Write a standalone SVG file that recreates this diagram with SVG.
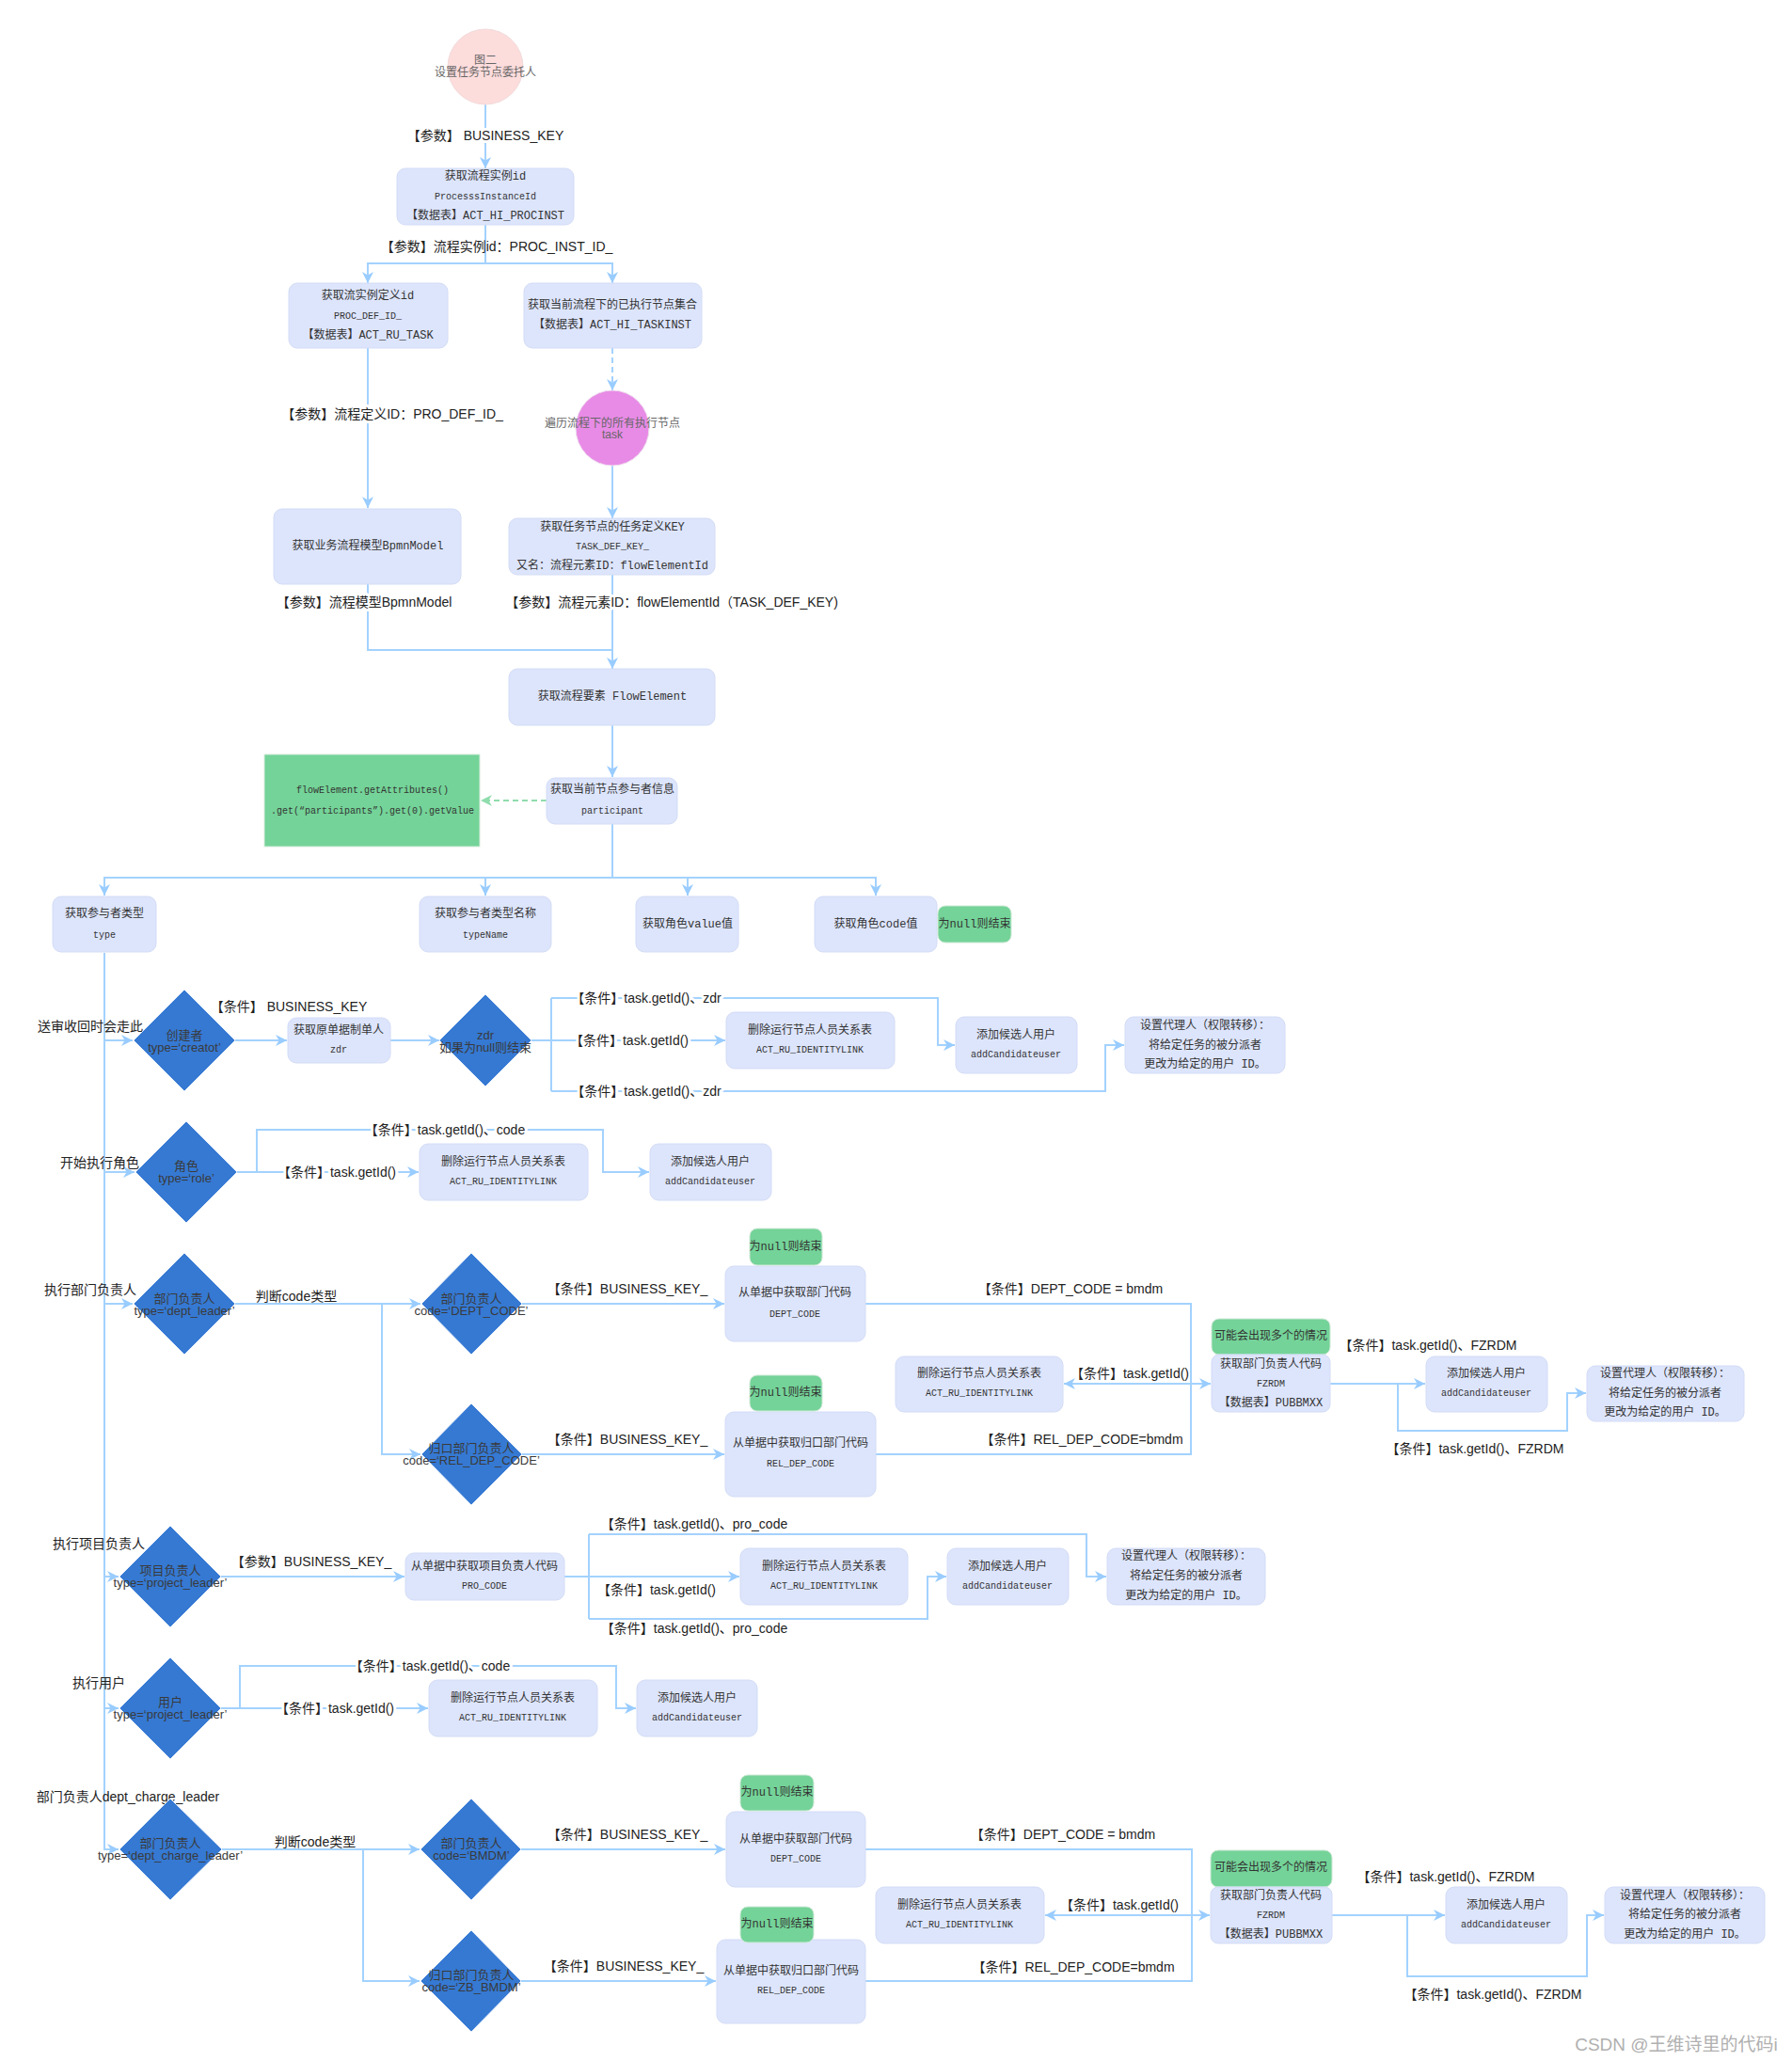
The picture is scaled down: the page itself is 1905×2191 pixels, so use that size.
<svg xmlns="http://www.w3.org/2000/svg" width="1905" height="2191" viewBox="0 0 1905 2191">
<defs>
<marker id="ar" markerUnits="userSpaceOnUse" markerWidth="12" markerHeight="12" refX="10" refY="5" orient="auto" viewBox="0 0 10 10">
<path d="M0,0 L10,5 L0,10 L3,5 z" fill="#99ccff"/>
</marker>
<marker id="arg" markerUnits="userSpaceOnUse" markerWidth="12" markerHeight="12" refX="10" refY="5" orient="auto" viewBox="0 0 10 10">
<path d="M0,0 L10,5 L0,10 L3,5 z" fill="#8fdcac"/>
</marker>
<style>
.e{fill:none;stroke:#a3d2ff;stroke-width:2}
.ea{fill:none;stroke:#a3d2ff;stroke-width:2;marker-end:url(#ar)}
.bx{fill:#dde5fc;stroke:#d3dcf6;stroke-width:1}
.gt{fill:#74d398;stroke:#cde8d6;stroke-width:1}
.dm{fill:#3579d3;stroke:#e6eefb;stroke-width:1}
.t{font-family:"Liberation Mono","Noto Sans CJK SC",monospace;font-size:12px;fill:#333;text-anchor:middle;dominant-baseline:central}
.m{font-family:"Liberation Mono",monospace;font-size:10px;fill:#333;text-anchor:middle;dominant-baseline:central}
.d{font-family:"Liberation Sans","Noto Sans CJK SC",sans-serif;font-size:13px;fill:#3a3a3a;text-anchor:middle;dominant-baseline:central}
.l{font-family:"Liberation Sans","Noto Sans CJK SC",sans-serif;font-size:14px;fill:#222;text-anchor:middle;dominant-baseline:central}
.h{stroke:#fff;stroke-width:6;stroke-linejoin:round;paint-order:stroke}
.c{font-family:"Liberation Sans","Noto Sans CJK SC",sans-serif;font-size:12px;fill:#666;text-anchor:middle;dominant-baseline:central}
</style>
</defs>
<rect width="1905" height="2191" fill="#fff"/>

<g id="connectors">
<path class="ea" d="M516,111 V179"/>
<path class="ea" d="M516,239 V280 H391 V301"/>
<path class="ea" d="M516,280 H651 V301"/>
<path class="ea" d="M391,370 V540"/>
<path class="ea" d="M651,370 V415" stroke-dasharray="6 4"/>
<path class="ea" d="M651,495 V551"/>
<path class="e" d="M391,621 V691 H651"/>
<path class="ea" d="M651,611 V711"/>
<path class="ea" d="M651,771 V826"/>
<path d="M581,851 H511" fill="none" stroke="#8fdcac" stroke-width="2" stroke-dasharray="6 4" marker-end="url(#arg)"/>
<path class="ea" d="M651,876 V933 H111 V952"/>
<path class="ea" d="M651,933 H931 V952"/>
<path class="ea" d="M516,933 V952"/>
<path class="ea" d="M731,933 V952"/>
<path class="ea" d="M111,1013 V1966 H126"/>
<path class="ea" d="M111,1106 H141"/>
<path class="ea" d="M111,1246 H143"/>
<path class="ea" d="M111,1386 H141"/>
<path class="ea" d="M111,1676 H126"/>
<path class="ea" d="M111,1816 H126"/>
<!-- row 1 -->
<path class="ea" d="M250,1106 H305"/>
<path class="ea" d="M415,1106 H467"/>
<path class="e" d="M565,1106 H586 M586,1061 V1160"/>
<path class="ea" d="M586,1061 H997 V1111 H1015"/>
<path class="ea" d="M586,1106 H771"/>
<path class="ea" d="M586,1160 H1175 V1111 H1195"/>
<!-- row 2 -->
<path class="ea" d="M252,1246 H273 V1201 H641 V1246 H690"/>
<path class="ea" d="M273,1246 H445"/>
<!-- row 3 -->
<path class="ea" d="M250,1386 H447"/>
<path class="ea" d="M406,1386 V1546 H447"/>
<path class="ea" d="M555,1386 H770"/>
<path class="ea" d="M555,1546 H770"/>
<path class="e" d="M920,1386 H1266 V1546 H931"/>
<path class="ea" d="M1266,1471 H1287"/>
<path class="ea" d="M1266,1471 H1131"/>
<path class="ea" d="M1414,1471 H1515"/>
<path class="ea" d="M1486,1471 V1521 H1666 V1481 H1686"/>
<!-- row 4 -->
<path class="ea" d="M234,1676 H430"/>
<path class="e" d="M600,1676 H626 M626,1631 V1721"/>
<path class="ea" d="M626,1631 H1155 V1676 H1176"/>
<path class="ea" d="M626,1676 H786"/>
<path class="ea" d="M626,1721 H986 V1676 H1006"/>
<!-- row 5 -->
<path class="ea" d="M234,1816 H255 V1771 H655 V1816 H676"/>
<path class="ea" d="M255,1816 H455"/>
<!-- row 6 -->
<path class="ea" d="M236,1966 H446"/>
<path class="ea" d="M386,1966 V2106 H446"/>
<path class="ea" d="M554,1966 H771"/>
<path class="ea" d="M554,2106 H761"/>
<path class="e" d="M920,1966 H1267 V2106 H920"/>
<path class="ea" d="M1267,2036 H1286"/>
<path class="ea" d="M1267,2036 H1111"/>
<path class="ea" d="M1416,2036 H1536"/>
<path class="ea" d="M1496,2036 V2101 H1687 V2036 H1705"/>
</g>

<g id="edge-labels">
<text class="l h" x="516" y="144">【参数】 BUSINESS_KEY</text>
<text class="l" x="528" y="262">【参数】流程实例id：PROC_INST_ID_</text>
<text class="l h" x="417" y="440">【参数】流程定义ID：PRO_DEF_ID_</text>
<text class="l h" x="387" y="640">【参数】流程模型BpmnModel</text>
<text class="l h" x="714" y="640">【参数】流程元素ID：flowElementId（TASK_DEF_KEY)</text>
<text class="l" x="307" y="1070">【条件】 BUSINESS_KEY</text>
<text class="l h" x="687" y="1061">【条件】task.getId()、zdr</text>
<text class="l h" x="669" y="1106">【条件】task.getId()</text>
<text class="l h" x="687" y="1160">【条件】task.getId()、zdr</text>
<text class="l h" x="473" y="1201">【条件】task.getId()、code</text>
<text class="l h" x="358" y="1246">【条件】task.getId()</text>
<text class="l" x="315" y="1378">判断code类型</text>
<text class="l" x="667" y="1370">【条件】BUSINESS_KEY_</text>
<text class="l" x="667" y="1530">【条件】BUSINESS_KEY_</text>
<text class="l" x="1138" y="1370">【条件】DEPT_CODE = bmdm</text>
<text class="l" x="1150" y="1530">【条件】REL_DEP_CODE=bmdm</text>
<text class="l" x="1201" y="1460">【条件】task.getId()</text>
<text class="l" x="1518" y="1430">【条件】task.getId()、FZRDM</text>
<text class="l" x="1568" y="1540">【条件】task.getId()、FZRDM</text>
<text class="l" x="331" y="1660">【参数】BUSINESS_KEY_</text>
<text class="l" x="738" y="1620">【条件】task.getId()、pro_code</text>
<text class="l" x="698" y="1690">【条件】task.getId()</text>
<text class="l" x="738" y="1731">【条件】task.getId()、pro_code</text>
<text class="l h" x="457" y="1771">【条件】task.getId()、code</text>
<text class="l h" x="356" y="1816">【条件】task.getId()</text>
<text class="l" x="335" y="1958">判断code类型</text>
<text class="l" x="667" y="1950">【条件】BUSINESS_KEY_</text>
<text class="l" x="663" y="2090">【条件】BUSINESS_KEY_</text>
<text class="l" x="1130" y="1950">【条件】DEPT_CODE = bmdm</text>
<text class="l" x="1141" y="2091">【条件】REL_DEP_CODE=bmdm</text>
<text class="l" x="1190" y="2025">【条件】task.getId()</text>
<text class="l" x="1537" y="1995">【条件】task.getId()、FZRDM</text>
<text class="l" x="1587" y="2120">【条件】task.getId()、FZRDM</text>
</g>

<g id="side-labels">
<text class="l" x="96" y="1091">送审收回时会走此</text>
<text class="l" x="106" y="1236">开始执行角色</text>
<text class="l" x="96" y="1371">执行部门负责人</text>
<text class="l" x="105" y="1641">执行项目负责人</text>
<text class="l" x="105" y="1789">执行用户</text>
<text class="l" x="136" y="1910">部门负责人dept_charge_leader</text>
</g>

<g id="n-start"><ellipse cx="516" cy="71" rx="40" ry="40" fill="#fddcdc" stroke="#f2dada"/><text class="c" x="516" y="64">图二</text><text class="c" x="516" y="77">设置任务节点委托人</text></g>
<g id="n-procinst"><rect class="bx" x="422" y="179" width="188" height="60" rx="9"/><text class="t" x="516" y="188">获取流程实例id</text><text class="m" x="516" y="209">ProcesssInstanceId</text><text class="t" x="516" y="230">【数据表】ACT_HI_PROCINST</text></g>
<g id="n-procdef"><rect class="bx" x="307" y="301" width="169" height="69" rx="9"/><text class="t" x="391" y="315">获取流实例定义id</text><text class="m" x="391" y="336">PROC_DEF_ID_</text><text class="t" x="391" y="357">【数据表】ACT_RU_TASK</text></g>
<g id="n-taskinst"><rect class="bx" x="557" y="301" width="189" height="69" rx="9"/><text class="t" x="651" y="325">获取当前流程下的已执行节点集合</text><text class="t" x="651" y="346">【数据表】ACT_HI_TASKINST</text></g>
<g id="n-loop"><ellipse cx="651" cy="455" rx="39" ry="40" fill="#e88be6" stroke="#eedcee"/><text class="c" x="651" y="450">遍历流程下的所有执行节点</text><text class="c" x="651" y="462">task</text></g>
<g id="n-bpmn"><rect class="bx" x="291" y="541" width="199" height="80" rx="9"/><text class="t" x="391" y="581">获取业务流程模型BpmnModel</text></g>
<g id="n-taskdefkey"><rect class="bx" x="541" y="551" width="219" height="60" rx="9"/><text class="t" x="651" y="561">获取任务节点的任务定义KEY</text><text class="m" x="651" y="581">TASK_DEF_KEY_</text><text class="t" x="651" y="602">又名：流程元素ID：flowElementId</text></g>
<g id="n-flowelement"><rect class="bx" x="541" y="711" width="219" height="60" rx="9"/><text class="t" x="651" y="741">获取流程要素 FlowElement</text></g>
<g id="n-participant"><rect class="bx" x="581" y="827" width="139" height="49" rx="9"/><text class="t" x="651" y="840">获取当前节点参与者信息</text><text class="m" x="651" y="862">participant</text></g>
<g id="n-getattr"><rect x="281" y="802" width="229" height="98" fill="#74d398" stroke="#d5ecdc"/><text class="m" x="396" y="840">flowElement.getAttributes()</text><text class="m" x="396" y="862">.get(“participants”).get(0).getValue</text></g>

<g id="n-type"><rect class="bx" x="56" y="953" width="110" height="59" rx="9"/><text class="t" x="111" y="972">获取参与者类型</text><text class="m" x="111" y="994">type</text></g>
<g id="n-typename"><rect class="bx" x="446" y="953" width="140" height="59" rx="9"/><text class="t" x="516" y="972">获取参与者类型名称</text><text class="m" x="516" y="994">typeName</text></g>
<g id="n-rolevalue"><rect class="bx" x="676" y="953" width="109" height="59" rx="9"/><text class="t" x="731" y="983">获取角色value值</text></g>
<g id="n-rolecode"><rect class="bx" x="866" y="953" width="130" height="59" rx="9"/><text class="t" x="931" y="983">获取角色code值</text></g>
<g id="n-tag0"><rect class="gt" x="997" y="963" width="78" height="39" rx="8"/><text class="t" x="1036" y="983">为null则结束</text></g>

<!-- row 1 -->
<g id="n-creator"><polygon class="dm" points="196,1052 250,1106 196,1160 142,1106"/><text class="d" x="196" y="1100">创建者</text><text class="d" x="196" y="1113">type=‘creatot’</text></g>
<g id="n-zdr"><rect class="bx" x="306" y="1082" width="109" height="48" rx="9"/><text class="t" x="360" y="1096">获取原单据制单人</text><text class="m" x="360" y="1116">zdr</text></g>
<g id="n-zdrnull"><polygon class="dm" points="516,1057 565,1106 516,1155 467,1106"/><text class="d" x="516" y="1100">zdr</text><text class="d" x="516" y="1113">如果为null则结束</text></g>
<g id="n-del1"><rect class="bx" x="772" y="1076" width="179" height="60" rx="9"/><text class="t" x="861" y="1096">删除运行节点人员关系表</text><text class="m" x="861" y="1116">ACT_RU_IDENTITYLINK</text></g>
<g id="n-add1"><rect class="bx" x="1016" y="1081" width="129" height="60" rx="9"/><text class="t" x="1080" y="1101">添加候选人用户</text><text class="m" x="1080" y="1121">addCandidateuser</text></g>
<g id="n-set1"><rect class="bx" x="1196" y="1081" width="170" height="60" rx="9"/><text class="t" x="1281" y="1091">设置代理人（权限转移）：</text><text class="t" x="1281" y="1112">将给定任务的被分派者</text><text class="t" x="1281" y="1132">更改为给定的用户 ID。</text></g>

<!-- row 2 -->
<g id="n-role"><polygon class="dm" points="198,1192 252,1246 198,1300 144,1246"/><text class="d" x="198" y="1239">角色</text><text class="d" x="198" y="1252">type=‘role’</text></g>
<g id="n-del2"><rect class="bx" x="446" y="1216" width="179" height="60" rx="9"/><text class="t" x="535" y="1236">删除运行节点人员关系表</text><text class="m" x="535" y="1256">ACT_RU_IDENTITYLINK</text></g>
<g id="n-add2"><rect class="bx" x="691" y="1216" width="129" height="60" rx="9"/><text class="t" x="755" y="1236">添加候选人用户</text><text class="m" x="755" y="1256">addCandidateuser</text></g>

<!-- row 3 -->
<g id="n-deptleader"><polygon class="dm" points="196,1332 250,1386 196,1440 142,1386"/><text class="d" x="196" y="1380">部门负责人</text><text class="d" x="196" y="1393">type=‘dept_leader’</text></g>
<g id="n-deptcode"><polygon class="dm" points="501,1332 555,1386 501,1440 448,1386"/><text class="d" x="501" y="1380">部门负责人</text><text class="d" x="501" y="1393">code=‘DEPT_CODE’</text></g>
<g id="n-reldepcode"><polygon class="dm" points="501,1492 555,1546 501,1600 448,1546"/><text class="d" x="501" y="1539">归口部门负责人</text><text class="d" x="501" y="1552">code=‘REL_DEP_CODE’</text></g>
<g id="n-getdept3"><rect class="bx" x="771" y="1346" width="149" height="80" rx="9"/><text class="t" x="845" y="1375">从单据中获取部门代码</text><text class="m" x="845" y="1397">DEPT_CODE</text></g>
<g id="n-tag3a"><rect class="gt" x="797" y="1306" width="77" height="39" rx="8"/><text class="t" x="835" y="1326">为null则结束</text></g>
<g id="n-getreldept3"><rect class="bx" x="771" y="1501" width="160" height="90" rx="9"/><text class="t" x="851" y="1535">从单据中获取归口部门代码</text><text class="m" x="851" y="1556">REL_DEP_CODE</text></g>
<g id="n-tag3b"><rect class="gt" x="797" y="1462" width="77" height="38" rx="8"/><text class="t" x="835" y="1481">为null则结束</text></g>
<g id="n-del3"><rect class="bx" x="952" y="1442" width="178" height="59" rx="9"/><text class="t" x="1041" y="1461">删除运行节点人员关系表</text><text class="m" x="1041" y="1481">ACT_RU_IDENTITYLINK</text></g>
<g id="n-tag3c"><rect class="gt" x="1288" y="1402" width="126" height="38" rx="8"/><text class="t" x="1351" y="1421">可能会出现多个的情况</text></g>
<g id="n-fzrdm3"><rect class="bx" x="1288" y="1440" width="126" height="61" rx="8"/><text class="t" x="1351" y="1451">获取部门负责人代码</text><text class="m" x="1351" y="1471">FZRDM</text><text class="t" x="1351" y="1492">【数据表】PUBBMXX</text></g>
<g id="n-add3"><rect class="bx" x="1516" y="1442" width="129" height="59" rx="9"/><text class="t" x="1580" y="1461">添加候选人用户</text><text class="m" x="1580" y="1481">addCandidateuser</text></g>
<g id="n-set3"><rect class="bx" x="1687" y="1452" width="167" height="59" rx="9"/><text class="t" x="1770" y="1461">设置代理人（权限转移）：</text><text class="t" x="1770" y="1482">将给定任务的被分派者</text><text class="t" x="1770" y="1502">更改为给定的用户 ID。</text></g>

<!-- row 4 -->
<g id="n-projleader"><polygon class="dm" points="181,1622 235,1676 181,1730 127,1676"/><text class="d" x="181" y="1669">项目负责人</text><text class="d" x="181" y="1682">type=‘project_leader’</text></g>
<g id="n-procode"><rect class="bx" x="431" y="1651" width="169" height="50" rx="9"/><text class="t" x="515" y="1666">从单据中获取项目负责人代码</text><text class="m" x="515" y="1686">PRO_CODE</text></g>
<g id="n-del4"><rect class="bx" x="787" y="1646" width="178" height="60" rx="9"/><text class="t" x="876" y="1666">删除运行节点人员关系表</text><text class="m" x="876" y="1686">ACT_RU_IDENTITYLINK</text></g>
<g id="n-add4"><rect class="bx" x="1007" y="1646" width="129" height="60" rx="9"/><text class="t" x="1071" y="1666">添加候选人用户</text><text class="m" x="1071" y="1686">addCandidateuser</text></g>
<g id="n-set4"><rect class="bx" x="1177" y="1646" width="168" height="60" rx="9"/><text class="t" x="1261" y="1655">设置代理人（权限转移）：</text><text class="t" x="1261" y="1676">将给定任务的被分派者</text><text class="t" x="1261" y="1697">更改为给定的用户 ID。</text></g>

<!-- row 5 -->
<g id="n-user"><polygon class="dm" points="181,1762 235,1816 181,1870 127,1816"/><text class="d" x="181" y="1809">用户</text><text class="d" x="181" y="1822">type=‘project_leader’</text></g>
<g id="n-del5"><rect class="bx" x="456" y="1786" width="179" height="60" rx="9"/><text class="t" x="545" y="1806">删除运行节点人员关系表</text><text class="m" x="545" y="1826">ACT_RU_IDENTITYLINK</text></g>
<g id="n-add5"><rect class="bx" x="677" y="1786" width="128" height="60" rx="9"/><text class="t" x="741" y="1806">添加候选人用户</text><text class="m" x="741" y="1826">addCandidateuser</text></g>

<!-- row 6 -->
<g id="n-chargeleader"><polygon class="dm" points="181,1912 236,1966 181,2020 127,1966"/><text class="d" x="181" y="1959">部门负责人</text><text class="d" x="181" y="1972">type=‘dept_charge_leader’</text></g>
<g id="n-bmdm"><polygon class="dm" points="501,1912 554,1966 501,2020 447,1966"/><text class="d" x="501" y="1959">部门负责人</text><text class="d" x="501" y="1972">code=‘BMDM’</text></g>
<g id="n-zbbmdm"><polygon class="dm" points="501,2052 554,2106 501,2160 447,2106"/><text class="d" x="501" y="2099">归口部门负责人</text><text class="d" x="501" y="2112">code=‘ZB_BMDM’</text></g>
<g id="n-getdept6"><rect class="bx" x="772" y="1926" width="148" height="80" rx="9"/><text class="t" x="846" y="1956">从单据中获取部门代码</text><text class="m" x="846" y="1976">DEPT_CODE</text></g>
<g id="n-tag6a"><rect class="gt" x="787" y="1887" width="78" height="38" rx="8"/><text class="t" x="826" y="1906">为null则结束</text></g>
<g id="n-getreldept6"><rect class="bx" x="762" y="2062" width="158" height="89" rx="9"/><text class="t" x="841" y="2096">从单据中获取归口部门代码</text><text class="m" x="841" y="2116">REL_DEP_CODE</text></g>
<g id="n-tag6b"><rect class="gt" x="787" y="2027" width="78" height="38" rx="8"/><text class="t" x="826" y="2046">为null则结束</text></g>
<g id="n-del6"><rect class="bx" x="931" y="2006" width="179" height="60" rx="9"/><text class="t" x="1020" y="2026">删除运行节点人员关系表</text><text class="m" x="1020" y="2046">ACT_RU_IDENTITYLINK</text></g>
<g id="n-tag6c"><rect class="gt" x="1287" y="1967" width="129" height="39" rx="8"/><text class="t" x="1351" y="1986">可能会出现多个的情况</text></g>
<g id="n-fzrdm6"><rect class="bx" x="1287" y="2006" width="129" height="60" rx="8"/><text class="t" x="1351" y="2016">获取部门负责人代码</text><text class="m" x="1351" y="2036">FZRDM</text><text class="t" x="1351" y="2057">【数据表】PUBBMXX</text></g>
<g id="n-add6"><rect class="bx" x="1537" y="2006" width="129" height="60" rx="9"/><text class="t" x="1601" y="2026">添加候选人用户</text><text class="m" x="1601" y="2046">addCandidateuser</text></g>
<g id="n-set6"><rect class="bx" x="1706" y="2006" width="170" height="60" rx="9"/><text class="t" x="1791" y="2016">设置代理人（权限转移）：</text><text class="t" x="1791" y="2036">将给定任务的被分派者</text><text class="t" x="1791" y="2057">更改为给定的用户 ID。</text></g>

<text x="1782" y="2173" font-family="Liberation Sans, Noto Sans CJK SC, sans-serif" font-size="19" fill="#b0b0b0" text-anchor="middle" dominant-baseline="central">CSDN @王维诗里的代码i</text>
</svg>
